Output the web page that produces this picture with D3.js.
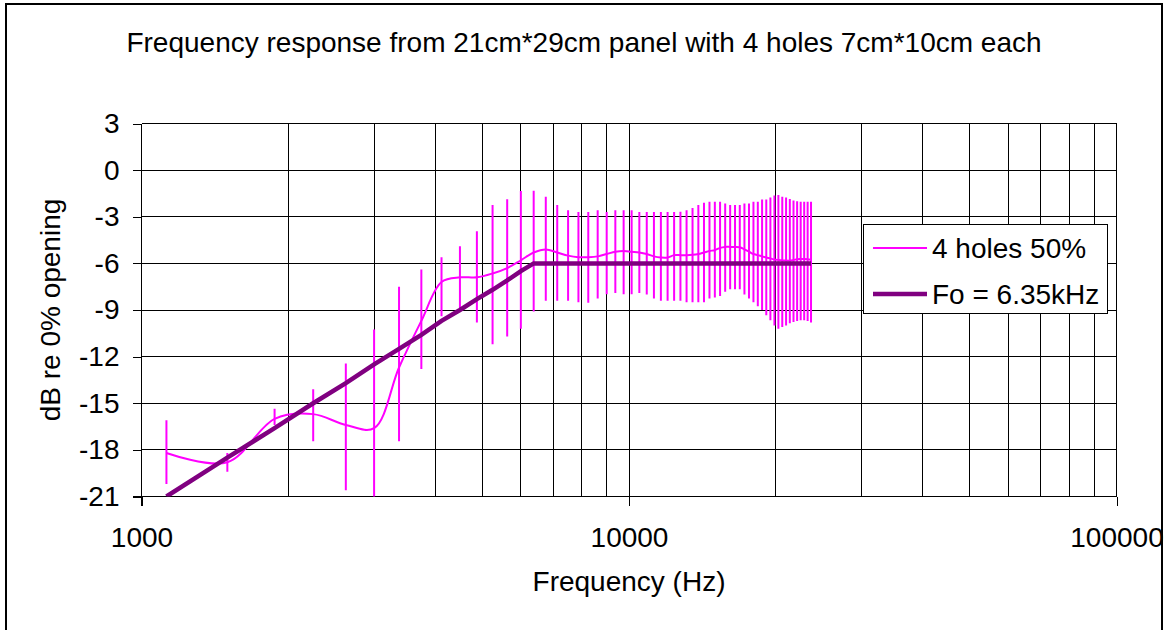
<!DOCTYPE html>
<html>
<head>
<meta charset="utf-8">
<script src="https://cdn.jsdelivr.net/npm/d3@7"></script>
<style>
  html, body { margin: 0; padding: 0; background: #fff; }
  svg { display: block; }
  text { font-family: Arial, "Liberation Sans", sans-serif; fill: #000; }
</style>
</head>
<body>
<svg id="chart" width="1165" height="630"></svg>
<script>
const chartTitle = "Frequency response from 21cm*29cm panel with 4 holes 7cm*10cm each";
const xTitle = "Frequency (Hz)";
const yTitle = "dB re 0% opening";
const seriesNames = ["4 holes 50%", "Fo = 6.35kHz"];

const xTickValues = [1000, 10000, 100000];
const xGridValues = [1000,2000,3000,4000,5000,6000,7000,8000,9000,10000,20000,30000,40000,50000,60000,70000,80000,90000,100000];
const yTickValues = [-21, -18, -15, -12, -9, -6, -3, 0, 3];

const freqHz = [1125,1500,1875,2250,2625,3000,3375,3750,4125,4500,4875,5250,5625,6000,6375,6750,7125,7500,7875,8250,8625,9000,9375,9750,10125,10500,10875,11250,11625,12000,12375,12750,13125,13500,13875,14250,14625,15000,15375,15750,16125,16500,16875,17250,17625,18000,18375,18750,19125,19500,19875,20250,20625,21000,21375,21750,22125,22500,22875,23250,23625];

const holesMean = [-18.2,-18.8,-16.0,-15.7,-16.4,-16.6,-12.7,-9.7,-7.2,-6.9,
  -6.9,-6.65,-6.3,-5.8,-5.3,-5.1,-5.3,-5.5,-5.6,-5.6,
  -5.55,-5.4,-5.25,-5.2,-5.25,-5.3,-5.4,-5.55,-5.62,-5.62,
  -5.47,-5.47,-5.47,-5.45,-5.4,-5.3,-5.2,-5.15,-5.0,-4.94,
  -4.94,-4.94,-4.96,-5.1,-5.25,-5.4,-5.47,-5.55,-5.62,-5.68,
  -5.75,-5.78,-5.8,-5.82,-5.82,-5.78,-5.73,-5.72,-5.72,-5.73,
  -5.76];

const holesHigh = [-16.1,-18.2,-15.35,-14.1,-12.45,-10.26,-7.5,-6.4,-5.6,-4.9,
  -3.93,-2.25,-1.87,-1.35,-1.33,-1.72,-2.25,-2.58,-2.7,-2.7,
  -2.58,-2.7,-2.58,-2.58,-2.58,-2.7,-2.7,-2.7,-2.7,-2.7,
  -2.7,-2.68,-2.58,-2.43,-2.25,-2.1,-2.04,-2.04,-2.04,-2.15,
  -2.25,-2.25,-2.25,-2.15,-2.15,-2.04,-2.04,-1.89,-1.89,-1.76,
  -1.63,-1.6,-1.72,-1.76,-1.85,-1.95,-2.0,-2.04,-2.04,-2.04,
  -2.04];

const holesLow = [-20.2,-19.4,-16.4,-17.45,-20.6,-22.7,-17.45,-12.8,-9.4,-8.9,
  -9.8,-11.2,-10.7,-10.2,-9.1,-8.4,-8.4,-8.4,-8.5,-8.54,
  -8.26,-7.98,-7.9,-7.98,-7.98,-7.9,-8.0,-8.26,-8.4,-8.4,
  -8.4,-8.4,-8.5,-8.5,-8.5,-8.5,-8.26,-8.2,-8.1,-7.83,
  -7.66,-7.66,-7.66,-8.0,-8.26,-8.5,-8.76,-9.0,-9.34,-9.66,
  -10.0,-10.2,-10.1,-10.0,-9.85,-9.77,-9.7,-9.66,-9.66,-9.7,
  -9.8];

const foLine = [-21.0,-18.5,-16.6,-15.0,-13.7,-12.5,-11.5,-10.6,-9.7,-9.0,
  -8.3,-7.7,-7.1,-6.5,-6,-6,-6,-6,-6,-6,
  -6,-6,-6,-6,-6,-6,-6,-6,-6,-6,
  -6,-6,-6,-6,-6,-6,-6,-6,-6,-6,
  -6,-6,-6,-6,-6,-6,-6,-6,-6,-6,
  -6,-6,-6,-6,-6,-6,-6,-6,-6,-6,
  -6];

const svg = d3.select("#chart");
const plot = { left: 141.5, right: 1116.5, top: 123.5, bottom: 496.5 };
const FONT = 28;

// outer frame
svg.append("rect").attr("x", 6).attr("y", 4).attr("width", 1156).attr("height", 640)
  .attr("fill", "#fff").attr("stroke", "#000").attr("stroke-width", 2);

const x = d3.scaleLog().domain([1000, 100000]).range([plot.left, plot.right]);
const y = d3.scaleLinear().domain([-21, 3]).range([plot.bottom, plot.top]);

// gridlines
const grid = svg.append("g").attr("stroke", "#000").attr("stroke-width", 1).attr("shape-rendering", "crispEdges");
grid.selectAll("line.h").data(yTickValues).join("line")
  .attr("x1", plot.left).attr("x2", plot.right)
  .attr("y1", d => y(d)).attr("y2", d => y(d));
grid.selectAll("line.v").data(xGridValues).join("line")
  .attr("x1", d => x(d)).attr("x2", d => x(d))
  .attr("y1", plot.top).attr("y2", plot.bottom);

// axes
const yAxis = d3.axisLeft(y).tickValues(yTickValues).tickSize(9).tickPadding(13).tickFormat(d => String(d));
const gy = svg.append("g").attr("transform", `translate(${plot.left},0)`).call(yAxis);
gy.select(".domain").attr("stroke", "#000").attr("shape-rendering", "crispEdges")
  .attr("d", `M0,${plot.top}V${plot.bottom + 9}`);
gy.selectAll(".tick line").attr("stroke", "#000").attr("shape-rendering", "crispEdges");
gy.selectAll("text").attr("font-size", FONT).attr("font-family", "Arial, 'Liberation Sans', sans-serif");

const xAxis = d3.axisBottom(x).tickValues(xTickValues).tickSize(9).tickPadding(22).tickFormat(d => String(d));
const gx = svg.append("g").attr("transform", `translate(0,${plot.bottom})`).call(xAxis);
gx.select(".domain").attr("stroke", "#000").attr("shape-rendering", "crispEdges")
  .attr("d", `M${plot.left - 9},0H${plot.right}`);
gx.selectAll(".tick line").attr("stroke", "#000").attr("shape-rendering", "crispEdges");
gx.selectAll("text").attr("font-size", FONT).attr("font-family", "Arial, 'Liberation Sans', sans-serif");

// clip
svg.append("clipPath").attr("id", "plotclip").append("rect")
  .attr("x", plot.left).attr("y", plot.top - 1).attr("width", plot.right - plot.left).attr("height", plot.bottom - plot.top + 1);

const data = freqHz.map((f, i) => ({ f, mean: holesMean[i], hi: holesHigh[i], lo: holesLow[i], fo: foLine[i] }));
const marks = svg.append("g").attr("clip-path", "url(#plotclip)");

// error bars
marks.selectAll("line.err").data(data).join("line").attr("class", "err")
  .attr("x1", d => x(d.f)).attr("x2", d => x(d.f))
  .attr("y1", d => y(d.hi)).attr("y2", d => y(d.lo))
  .attr("stroke", "#FF00FF").attr("stroke-width", 2);

// 4 holes line (smoothed)
marks.append("path").datum(data)
  .attr("fill", "none").attr("stroke", "#FF00FF").attr("stroke-width", 2)
  .attr("d", d3.line().x(d => x(d.f)).y(d => y(d.mean)).curve(d3.curveCatmullRom));

// Fo line
marks.append("path").datum(data)
  .attr("fill", "none").attr("stroke", "#800080").attr("stroke-width", 4.5)
  .attr("d", d3.line().x(d => x(d.f)).y(d => y(d.fo)));

// titles
svg.append("text").attr("x", 584).attr("y", 52).attr("text-anchor", "middle")
  .attr("font-size", FONT).text(chartTitle);
svg.append("text").attr("x", (plot.left + plot.right) / 2).attr("y", 591).attr("text-anchor", "middle")
  .attr("font-size", FONT).text(xTitle);
svg.append("text").attr("transform", `translate(60,${(plot.top + plot.bottom) / 2}) rotate(-90)`)
  .attr("text-anchor", "middle").attr("font-size", FONT).text(yTitle);

// legend
const lg = svg.append("g");
lg.append("rect").attr("x", 863.5).attr("y", 224.5).attr("width", 244).attr("height", 89)
  .attr("fill", "#fff").attr("stroke", "#000").attr("stroke-width", 1);
const legendRows = [
  { name: seriesNames[0], color: "#FF00FF", width: 2, yy: 248 },
  { name: seriesNames[1], color: "#800080", width: 4.5, yy: 294 }
];
legendRows.forEach(r => {
  lg.append("line").attr("x1", 873).attr("x2", 927).attr("y1", r.yy).attr("y2", r.yy)
    .attr("stroke", r.color).attr("stroke-width", r.width);
  lg.append("text").attr("x", 932).attr("y", r.yy + 10).attr("font-size", FONT).text(r.name);
});
</script>
</body>
</html>
